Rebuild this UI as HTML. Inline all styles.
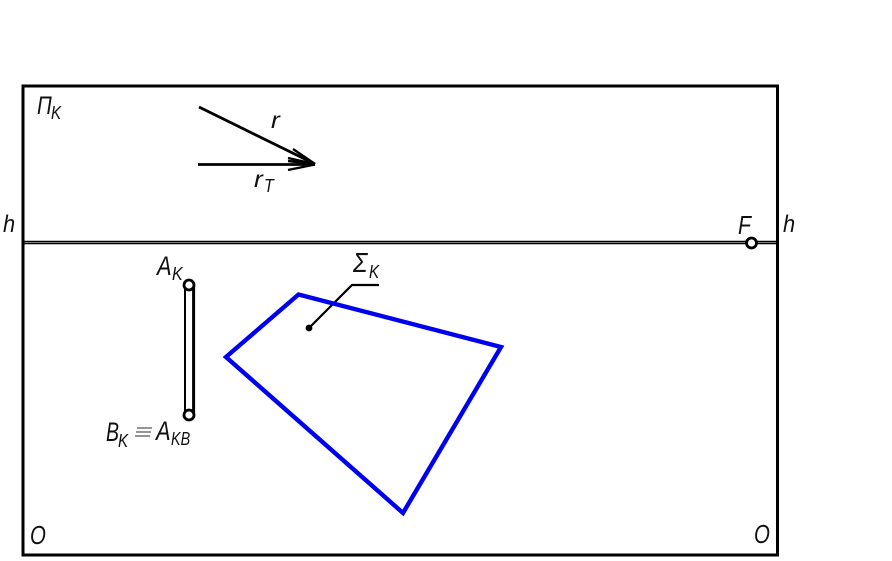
<!DOCTYPE html>
<html><head><meta charset="utf-8"><style>
html,body{margin:0;padding:0;background:#fff}
svg{display:block}
text{font-family:"Liberation Sans",sans-serif;font-style:italic;fill:#111}
</style></head><body>
<svg width="892" height="561" viewBox="0 0 892 561" xmlns="http://www.w3.org/2000/svg">
<rect width="892" height="561" fill="#fff"/>
<g fill="none" stroke="#000">
<path d="M23 86H777.5V555H23Z" stroke-width="3"/>
<path d="M23 241.5H777M23 243.5H777" stroke-width="1.4"/>
<path d="M199 107L315 164M198 164.5H315" stroke-width="2.8"/>
<path d="M293 149L315 164L288 158M288 161L315 164M288 170L315 164.5" stroke-width="2.4"/>
<path d="M185 285V415" stroke-width="2"/>
<path d="M193.6 285V415" stroke-width="3"/>
<circle cx="189" cy="285" r="5" fill="#fff" stroke-width="2.8"/>
<circle cx="189" cy="415" r="5" fill="#fff" stroke-width="2.8"/>
<circle cx="751.5" cy="243" r="5" fill="#fff" stroke-width="2.8"/>
<path d="M309 328L352 285H379" stroke-width="2.2"/>
<path d="M298.5 294.5L501 347L403 513L226 357Z" stroke="#0000f0" stroke-width="4.4" stroke-linejoin="miter"/>
</g>
<circle cx="309" cy="328" r="3.4" fill="#000"/>
<text transform="translate(37 114) scale(.85 1.05)" font-size="24">П</text>
<text transform="translate(51 119) scale(.95 1.15)" font-size="16">K</text>
<text transform="translate(271 128) scale(1.2 1.05)" font-size="22">r</text>
<text transform="translate(254 187) scale(1.2 1.05)" font-size="22">r</text>
<text transform="translate(264 192) scale(1 1.15)" font-size="16">T</text>
<text transform="translate(3 232) scale(.95 1.05)" font-size="23">h</text>
<text transform="translate(783 232) scale(.95 1.05)" font-size="23">h</text>
<text transform="translate(738 234) scale(.85 1.05)" font-size="25">F</text>
<text transform="translate(157 275) scale(.95 1.15)" font-size="23">A</text>
<text transform="translate(172 280) scale(1 1.15)" font-size="16">K</text>
<text transform="translate(353 272) scale(1 1.15)" font-size="24">Σ</text>
<text transform="translate(369 278) scale(.95 1.15)" font-size="16">K</text>
<text transform="translate(106 441) scale(.85 1.15)" font-size="23">B</text>
<text transform="translate(118 447) scale(.95 1.15)" font-size="16">K</text>
<path d="M137 428H152M136 432H151M135 436H150" stroke="#555" stroke-width="1.2" fill="none"/>
<text transform="translate(156 440) scale(.95 1.15)" font-size="23">A</text>
<text transform="translate(171 445) scale(.9 1.15)" font-size="16">KB</text>
<text transform="translate(30 544) scale(.85 1.08)" font-size="24">O</text>
<text transform="translate(754 543) scale(.85 1.08)" font-size="24">O</text>
</svg>
</body></html>
